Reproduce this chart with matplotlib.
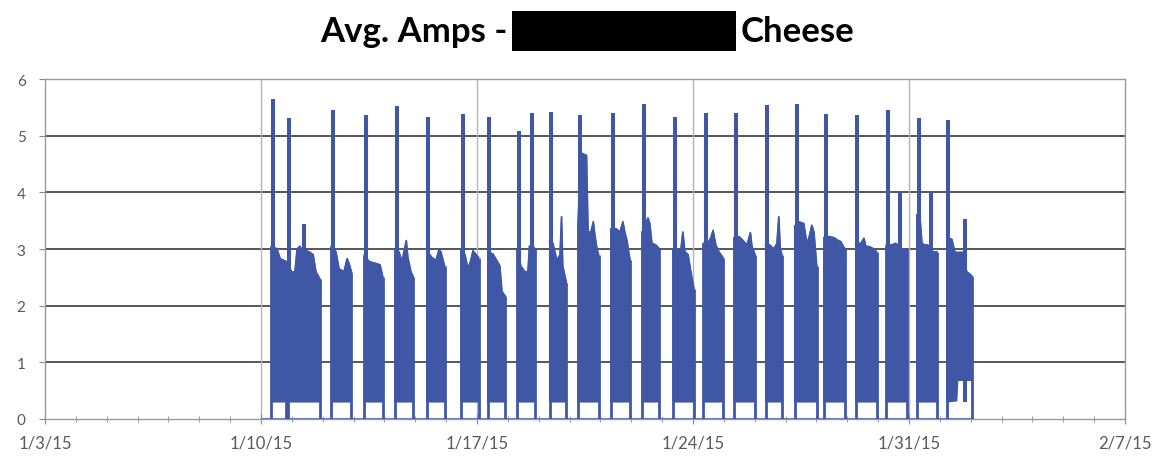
import numpy as np
import pandas as pd
import matplotlib
matplotlib.use("Agg")
import matplotlib.pyplot as plt
import matplotlib.dates as mdates
from matplotlib.ticker import FixedLocator, FixedFormatter
from matplotlib.patches import Rectangle

# all times are days counted from 1/3/15 00:00
origin = pd.Timestamp("2015-01-03")
week_days = [0, 7, 14, 21, 28, 35]
week_labels = ["1/3/15", "1/10/15", "1/17/15", "1/24/15", "1/31/15", "2/7/15"]
y_ticks = [0, 1, 2, 3, 4, 5, 6]

# logger is running (0 A between runs) over this span
series_start = 7.0
series_end = 30.08

# production runs: start / end and the low level of the cycling current
run_start = [7.34, 7.86, 9.28, 10.35, 11.34, 12.39, 13.48, 14.35, 15.31, 16.35, 17.28, 18.33,
             19.35, 20.35, 21.34, 22.33, 23.35, 24.29, 25.24, 26.27, 27.27, 28.25, 29.24]
run_end = [7.81, 8.91, 9.93, 10.95, 11.94, 12.95, 14.05, 14.91, 15.88, 16.90, 17.94, 18.96,
           19.91, 21.03, 21.97, 23.01, 23.88, 25.01, 25.92, 26.95, 27.92, 28.90, 30.03]
run_base = [0.3] * 23

# start-up spikes
spike_t = [7.39, 7.92, 8.40, 9.34, 10.40, 11.40, 12.42, 13.55, 14.40, 15.37, 15.77, 16.40, 17.34,
           18.40, 19.41, 20.41, 21.41, 22.39, 23.40, 24.38, 25.31, 26.32, 27.33, 27.70, 28.32,
           28.71, 29.28, 29.81]
spike_v = [5.64, 5.31, 3.44, 5.46, 5.36, 5.52, 5.33, 5.38, 5.33, 5.09, 5.40, 5.42, 5.36,
           5.40, 5.56, 5.33, 5.40, 5.40, 5.55, 5.56, 5.38, 5.37, 5.46, 4.01, 5.31,
           4.01, 5.28, 3.53]

# upper envelope of the cycling current inside each run
top_t = [7.34, 7.52, 7.62, 7.81,
         7.86, 8.00, 8.10, 8.17, 8.26, 8.36, 8.46, 8.56, 8.69, 8.78, 8.91,
         9.28, 9.43, 9.53, 9.69, 9.79, 9.85, 9.93,
         10.35, 10.50, 10.69, 10.86, 10.95,
         11.34, 11.47, 11.57, 11.67, 11.71, 11.76, 11.86, 11.94,
         12.39, 12.54, 12.67, 12.77, 12.83, 12.95,
         13.48, 13.61, 13.71, 13.80, 13.87, 13.97, 14.05,
         14.35, 14.52, 14.68, 14.74, 14.81, 14.91,
         15.31, 15.42, 15.55, 15.65, 15.70, 15.81, 15.88,
         16.35, 16.46, 16.59, 16.69, 16.74, 16.78, 16.90,
         17.28, 17.35, 17.55, 17.60, 17.69, 17.77, 17.82, 17.89, 17.94,
         18.33, 18.50, 18.63, 18.73, 18.79, 18.86, 18.96,
         19.35, 19.47, 19.54, 19.60, 19.67, 19.80, 19.91,
         20.35, 20.51, 20.61, 20.67, 20.74, 20.84, 20.93, 21.03,
         21.34, 21.48, 21.58, 21.65, 21.74, 21.84, 21.97,
         22.33, 22.49, 22.62, 22.75, 22.86, 22.91, 23.01,
         23.35, 23.49, 23.62, 23.72, 23.78, 23.83, 23.88,
         24.29, 24.43, 24.59, 24.69, 24.76, 24.85, 24.92, 25.01,
         25.24, 25.40, 25.57, 25.70, 25.79, 25.92,
         26.27, 26.44, 26.54, 26.60, 26.73, 26.86, 26.95,
         27.27, 27.44, 27.57, 27.67, 27.77, 27.92,
         28.25, 28.35, 28.42, 28.51, 28.61, 28.77, 28.90,
         29.24, 29.39, 29.49, 29.65, 29.75, 29.87, 30.03]
top_v = [3.05, 3.00, 2.83, 2.78,
         2.75, 2.59, 2.60, 3.00, 3.05, 2.95, 2.97, 2.95, 2.90, 2.60, 2.47,
         3.05, 2.95, 2.65, 2.60, 2.83, 2.75, 2.60,
         2.90, 2.78, 2.75, 2.72, 2.50,
         3.00, 2.95, 2.78, 3.05, 3.15, 2.85, 2.60, 2.50,
         2.95, 2.85, 2.80, 2.99, 2.95, 2.70,
         3.00, 2.90, 2.65, 2.80, 2.97, 2.90, 2.85,
         2.95, 2.91, 2.76, 2.70, 2.25, 2.17,
         3.00, 2.70, 2.60, 2.60, 3.05, 3.05, 3.00,
         3.13, 3.10, 2.80, 2.90, 3.57, 2.70, 2.40,
         3.50, 4.70, 4.65, 3.30, 3.30, 3.48, 3.25, 3.00, 2.90,
         3.35, 3.36, 3.30, 3.48, 3.30, 3.15, 2.80,
         3.30, 3.45, 3.55, 3.45, 3.10, 3.07, 3.00,
         3.00, 2.99, 3.00, 3.30, 2.95, 2.90, 2.60, 2.30,
         3.10, 3.10, 3.20, 3.33, 3.07, 2.95, 2.85,
         3.20, 3.22, 3.15, 3.07, 3.29, 3.05, 2.90,
         3.07, 3.07, 3.00, 3.10, 3.57, 3.00, 2.90,
         3.40, 3.48, 3.45, 3.10, 3.20, 3.42, 3.30, 2.70,
         3.20, 3.22, 3.20, 3.15, 3.13, 3.00,
         3.10, 3.10, 3.19, 3.05, 3.04, 3.00, 2.95,
         3.07, 3.07, 3.10, 3.05, 3.00, 3.00,
         3.60, 3.60, 3.10, 3.07, 3.07, 2.95, 2.95,
         3.20, 3.17, 2.94, 2.94, 2.94, 2.60, 2.53]

# raised low level near the end of the last run
floor_t = [29.55, 29.58]
floor_v = [0.32, 0.68]

blue = "#4057a6"
tick_grey = "#595959"

t0 = mdates.date2num(origin)


def to_x(d):
    return t0 + np.asarray(d, dtype=float)


fig = plt.figure(figsize=(11.66, 4.6), dpi=100)
ax = fig.add_axes([45 / 1166, 40 / 460, 1080 / 1166, 340 / 460])

top_t = np.array(top_t)
top_v = np.array(top_v)
floor_t = np.array(floor_t)
floor_v = np.array(floor_v)

ax.plot(to_x([series_start, series_end]), [0, 0], color=blue, lw=1.8,
        solid_capstyle="butt", zorder=3)

for s, e, b in zip(run_start, run_end, run_base):
    m = (top_t >= s) & (top_t <= e)
    tt, tv = top_t[m], top_v[m]
    fm = (floor_t >= s) & (floor_t <= e)
    lt = [s] + list(floor_t[fm]) + [e]
    lv = [b] + list(floor_v[fm]) + [floor_v[fm][-1] if fm.any() else b]
    ax.fill(to_x(list(tt) + lt[::-1]), list(tv) + lv[::-1], facecolor=blue,
            edgecolor=blue, lw=0.8, zorder=3)
    ax.plot(to_x(tt), tv, color=blue, lw=1.2, zorder=3)
    ax.vlines(to_x([s, e]), 0, [tv[0], tv[-1]], color=blue, lw=2.0, zorder=3)

ax.vlines(to_x(spike_t), 0.3, spike_v, color=blue, lw=2.9, zorder=4)

# axes / grid
ax.set_xlim(to_x(week_days[0]), to_x(week_days[-1]))
ax.set_ylim(0, 6)
ax.xaxis.set_major_locator(FixedLocator(to_x(week_days)))
ax.xaxis.set_major_formatter(FixedFormatter(week_labels))
ax.xaxis.set_minor_locator(mdates.DayLocator())
ax.set_yticks(y_ticks)

for y in y_ticks[1:-1]:
    ax.axhline(y, color="#3a3a3a", lw=1.2, zorder=1)
for d in week_days[1:-1]:
    ax.axvline(to_x(d), color="#b4b4b4", lw=1.0, zorder=1)

for side in ["top", "right", "left", "bottom"]:
    ax.spines[side].set_color("#9a9a9a")
    ax.spines[side].set_linewidth(1.0)

ax.tick_params(axis="x", which="major", direction="inout", length=7, color="#8a8a8a",
               labelsize=12, labelcolor=tick_grey, pad=8)
ax.tick_params(axis="x", which="minor", direction="inout", length=5, color="#8a8a8a")
ax.tick_params(axis="y", direction="out", length=4, color="#8a8a8a",
               labelsize=11, labelcolor=tick_grey, pad=10)
for lab in ax.get_xticklabels() + ax.get_yticklabels():
    lab.set_family("Lato")

# title with redacted name
title_y = 1 - 32 / 460
fig.text(508 / 1166, title_y, "Avg. Amps -", ha="right", va="center", fontsize=25,
         fontweight="bold", family="Lato")
fig.add_artist(Rectangle((512 / 1166, 1 - 52 / 460), 224 / 1166, 40 / 460,
                         transform=fig.transFigure, facecolor="black", edgecolor="none"))
fig.text(741 / 1166, title_y, "Cheese", ha="left", va="center", fontsize=25,
         fontweight="bold", family="Lato")

fig.savefig("out.png", dpi=100)
